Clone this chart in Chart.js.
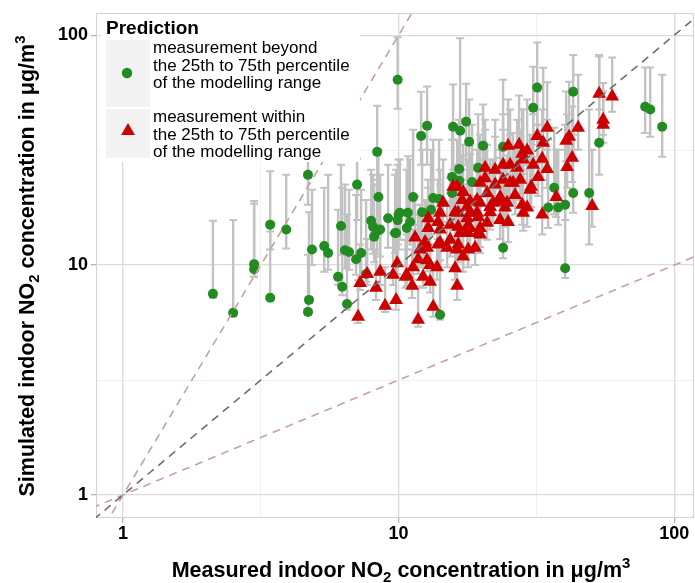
<!DOCTYPE html>
<html><head><meta charset="utf-8">
<script src="https://cdn.jsdelivr.net/npm/chart.js@4/dist/chart.umd.min.js"></script>
<style>html,body{margin:0;padding:0;background:#fff;}canvas{display:block;}</style>
</head><body>
<canvas id="c" width="695" height="583"></canvas>
<script>
// ---- data (µg/m³) ----
// measurement beyond the 25th to 75th percentile (green circles)
const greenX  = [2.12,2.51,2.99,2.99,3.42,3.42,3.91,4.69,4.73,4.69,4.85,5.37,5.55,6.03,6.24,6.50,7.07,6.18,6.39,6.61,7.01,7.31,7.62,8.36,8.45,7.95,8.08,8.36,8.57,8.15,9.16,9.79,10.0,9.92,12.07,12.69,15.77,16.72,17.58,18.03,20.26,23.94,31.83,30.79,43.0,53.43,78.46,81.85,90.45,36.7,43.0,49.15,34.9,37.95,40.21,40.21,11.29,13.35,14.02,12.17,13.12,10.1,10.8,11.0,9.92,10.7,9.71,16.59,15.64,16.59,18.48,19.43,15.64,23.94,14.14];
const greenY  = [7.50,6.20,10.1,9.6,15.0,7.21,14.3,24.7,7.06,6.26,11.7,12.1,11.3,8.89,8.05,6.78,22.4,14.8,11.6,11.4,10.6,11.3,9.15,31.1,19.8,15.6,14.7,14.1,14.3,13.3,16.0,13.8,16.6,64.1,36.5,40.4,40.0,38.4,42.1,34.4,33.1,32.7,59.3,48.4,56.8,34.1,48.9,47.5,40.0,21.7,20.6,20.6,17.8,17.8,18.3,9.7,19.8,19.6,19.4,17.0,17.4,16.9,16.9,15.4,15.7,14.5,13.8,26.2,24.2,23.3,23.0,26.5,20.6,11.9,6.08];
const greenLo = [7.21,6.00,8.9,8.9,11.7,7.0,11.8,18.3,6.85,6.1,10.0,9.35,9.55,8.21,7.4,6.39,15.7,11.1,9.7,9.55,9.07,8.89,8.46,19.2,13.6,11.7,11.2,11.2,10.9,10.3,11.9,10.3,11.7,47.9,27.3,27.3,26.0,24.7,27.3,23.5,22.4,21.3,40.8,33.4,31.8,24.7,37.6,36.2,29.6,16.6,16.9,12.3,14.5,15.0,15.7,8.8,15.0,15.0,15.0,13.2,13.6,12.9,12.9,12.3,12.3,11.7,11.3,19.2,18.3,17.4,17.4,20.0,15.7,10.7,5.78];
const greenHi = [15.6,15.7,19.0,18.5,25.6,14.0,24.7,31.8,17.0,11.1,21.3,21.7,24.7,17.4,21.7,16.6,29.0,27.3,22.4,21.3,20.2,21.3,19.2,49.3,31.8,26.0,24.7,23.5,24.7,22.4,27.3,26.0,28.8,98.0,56.8,59.8,61.0,97.0,61.6,52.5,50.0,64.0,93.0,73.0,82.0,82.0,72.5,72.5,67.4,39.6,36.9,47.5,35.1,31.8,31.8,40.8,38.8,35.1,35.1,31.8,31.8,28.8,29.8,28.8,27.3,26.0,24.7,42.9,40.8,39.6,40.8,45.3,35.1,19.8,12.9];

// measurement within the 25th to 75th percentile (red triangles)
const redX  = [7.25,7.69,8.57,8.28,9.55,8.93,7.13,9.79,9.88,11.29,12.69,13.79,10.6,12.27,13.01,16.04,11.2,16.31,13.35,11.77,12.80,14.14,13.90,16.45,17.73,19.27,21.49,23.35,24.35,24.97,28.08,28.32,30.02,12.80,11.48,12.48,14.14,15.38,16.72,17.73,19.43,20.95,15.0,16.31,17.88,18.95,17.15,11.77,14.51,17.01,19.27,16.45,19.76,20.6,22.4,23.94,25.39,28.32,30.79,32.10,24.97,27.37,29.27,31.83,16.31,17.15,19.76,20.95,23.94,25.39,27.61,30.27,34.61,40.89,26.91,33.47,34.61,41.58,40.55,44.83,53.43,59.57,55.25,55.25,28.08,33.19,42.64,37.32,33.19,50.39,19.76,22.03,17.73,12.69,
               21.49,23.35,24.76,16.04,18.18,19.43,17.88,15.77,26.03,18.18,18.18,19.76,13.90,16.45,13.01,10.7,29.27,22.4,14.14,15.38,11.97,23.35,26.47,20.6];
const redY  = [8.37,9.15,9.35,7.97,9.07,6.65,5.96,7.06,10.2,9.8,10.5,9.8,8.89,8.89,8.46,9.7,8.13,8.13,6.59,5.78,16.0,16.9,15.4,16.9,17.9,16.9,17.0,18.9,17.8,15.4,18.3,16.9,21.3,14.5,13.2,12.6,12.5,12.9,13.8,14.7,13.8,15.3,11.9,11.7,11.7,11.9,10.9,10.6,18.7,19.2,19.2,14.7,14.5,26.5,26.0,27.3,27.3,28.8,27.3,24.2,33.1,33.4,31.5,36.5,21.9,20.8,22.8,20.6,23.5,22.8,23.5,21.9,26.2,26.7,26.5,34.1,39.6,36.2,34.8,39.6,55.7,54.1,40.8,42.9,30.5,29.0,29.3,19.8,16.6,18.1,18.7,18.7,16.0,11.9,
               17.9,19.8,18.7,17.0,16.9,16.2,13.8,21.9,22.8,18.9,14.5,13.6,12.3,12.3,10.0,9.07,17.8,22.4,14.3,15.0,11.7,15.7,20.2,23.9];
const redLo = [7.8,8.2,8.2,7.06,8.2,6.26,5.6,6.4,9.15,8.63,9.4,8.63,7.97,7.97,7.6,8.63,7.2,7.06,5.96,5.4,13.6,14.3,13.0,14.3,15.0,14.1,14.3,15.6,14.7,12.6,15.0,14.1,17.4,12.0,11.1,10.5,10.5,10.9,11.3,12.0,11.3,12.9,9.8,9.6,9.8,10.0,9.35,9.15,15.4,15.7,15.7,12.0,12.0,21.9,21.5,22.4,22.4,23.5,22.4,20.0,27.3,27.3,26.0,29.6,17.4,16.6,18.3,16.6,19.2,18.3,19.2,17.9,21.7,21.7,21.7,27.9,31.8,29.6,28.3,31.8,47.5,46.5,34.1,36.9,25.0,23.5,23.0,16.2,13.6,14.7,15.4,15.4,13.6,9.8,
               15.0,16.6,15.7,14.3,14.1,13.6,11.7,18.3,18.7,15.7,12.0,11.3,10.3,10.3,8.9,8.1,14.7,18.3,12.0,12.6,9.8,13.0,16.6,19.8];
const redHi = [12.3,13.0,14.3,11.7,13.8,9.8,8.6,10.3,15.0,14.3,15.7,15.0,12.9,13.6,12.3,15.0,11.7,11.7,9.55,8.1,23.5,26.0,23.5,26.0,28.8,26.0,27.3,29.3,28.8,24.7,31.8,27.3,36.9,21.7,20.0,19.2,20.0,20.6,22.4,23.5,22.4,24.7,18.9,18.3,19.2,20.0,17.4,16.6,28.8,30.0,31.8,23.5,23.5,42.9,42.9,45.3,47.5,47.5,45.3,40.8,52.5,54.7,52.5,57.0,35.1,33.4,36.9,33.4,38.8,36.9,38.8,34.8,42.9,45.3,42.9,72.3,62.5,62.8,57.0,67.4,80.8,80.0,57.0,62.0,47.5,47.5,49.0,31.8,26.0,31.8,28.8,28.8,26.0,18.9,
               28.8,31.8,30.0,27.3,27.3,26.0,22.4,35.1,37.6,30.5,23.5,22.0,19.8,19.8,15.7,13.6,28.8,36.2,22.4,24.0,18.3,25.0,32.7,38.8];

// reference lines: 1:1, y = x^2, y = x^0.5 (end points)
const refX        = [0.5, 200];
const refIdentity = [0.5, 200];
const refSteep    = [0.25, 40000];
const refShallow  = [0.7071, 14.142];

// axis ticks
const gridValues  = [1, 3.1623, 10, 31.623, 100];
const majorTicks  = [1, 10, 100];
const legendTitle = 'Prediction';
const legendGreen = ['measurement beyond', 'the 25th to 75th percentile', 'of the modelling range'];
const legendRed   = ['measurement within', 'the 25th to 75th percentile', 'of the modelling range'];
const xTitle = [['Measured indoor NO', 0], ['2', 1], [' concentration in \u03bcg/m', 0], ['3', 2]];
const yTitle = [['Simulated indoor NO', 0], ['2', 1], [' concentration in \u03bcg/m', 0], ['3', 2]];

const FONT = "'Liberation Sans', Arial, Helvetica, sans-serif";
const GREEN = '#228B22', RED = '#CD0000';

function toPts(xs, ys) { return xs.map((x, i) => ({x: x, y: ys[i]})); }
const isMajor = v => majorTicks.some(m => Math.abs(m - v) < 1e-6);

const errorBars = {
  id: 'errorBars',
  beforeDatasetsDraw(chart) {
    const {ctx, chartArea: a, scales: {x, y}} = chart;
    ctx.save();
    ctx.beginPath(); ctx.rect(a.left, a.top, a.right - a.left, a.bottom - a.top); ctx.clip();
    // panel border
    ctx.strokeStyle = '#d4d4d4'; ctx.lineWidth = 1.2;
    ctx.strokeRect(a.left + 0.5, a.top + 0.5, a.right - a.left - 1, a.bottom - a.top - 1);
    ctx.strokeStyle = '#c2c2c2';
    const draw = (xs, lo, hi) => {
      for (let i = 0; i < xs.length; i++) {
        const px = x.getPixelForValue(xs[i]);
        const p1 = y.getPixelForValue(lo[i]), p2 = y.getPixelForValue(hi[i]);
        ctx.lineWidth = 2.4;
        ctx.beginPath(); ctx.moveTo(px, p1); ctx.lineTo(px, p2); ctx.stroke();
        ctx.lineWidth = 2;
        ctx.beginPath();
        ctx.moveTo(px - 4, p1); ctx.lineTo(px + 4, p1);
        ctx.moveTo(px - 4, p2); ctx.lineTo(px + 4, p2);
        ctx.stroke();
      }
    };
    draw(greenX, greenLo, greenHi);
    draw(redX, redLo, redHi);
    ctx.restore();
  }
};

function richWidth(ctx, parts, big, small) {
  let w = 0;
  for (const [t, k] of parts) { ctx.font = 'bold ' + (k ? small : big) + 'px ' + FONT; w += ctx.measureText(t).width; }
  return w;
}
function drawRich(ctx, parts, cx, base, big, small) {
  const w = richWidth(ctx, parts, big, small);
  let xpos = cx - w / 2;
  ctx.textAlign = 'left'; ctx.textBaseline = 'alphabetic'; ctx.fillStyle = '#000';
  for (const [t, k] of parts) {
    ctx.font = 'bold ' + (k ? small : big) + 'px ' + FONT;
    const dy = k === 1 ? 5 : (k === 2 ? -9 : 0);
    ctx.fillText(t, xpos, base + dy);
    xpos += ctx.measureText(t).width;
  }
}

const decorations = {
  id: 'decorations',
  afterDraw(chart) {
    const ctx = chart.ctx;
    ctx.save();
    // legend
    ctx.fillStyle = '#ffffff';
    ctx.fillRect(101, 14, 259, 148);
    ctx.fillStyle = '#f2f2f2';
    ctx.fillRect(106, 40, 44, 67);
    ctx.fillRect(106, 109, 44, 49);
    ctx.fillStyle = '#000';
    ctx.font = 'bold 19px ' + FONT;
    ctx.textAlign = 'left'; ctx.textBaseline = 'alphabetic';
    ctx.fillText(legendTitle, 106, 34);
    ctx.font = '17px ' + FONT;
    legendGreen.forEach((t, i) => ctx.fillText(t, 153, 53 + i * 17.7));
    legendRed.forEach((t, i) => ctx.fillText(t, 153, 122 + i * 17.7));
    ctx.fillStyle = GREEN;
    ctx.beginPath(); ctx.arc(127, 73, 5.2, 0, Math.PI * 2); ctx.fill();
    ctx.fillStyle = RED;
    const r = 8, cx = 128, cy = 131;
    ctx.beginPath();
    for (let k = 0; k < 3; k++) {
      const ang = k * 2 * Math.PI / 3;
      const px = cx + Math.sin(ang) * r, py = cy - Math.cos(ang) * r;
      if (k === 0) ctx.moveTo(px, py); else ctx.lineTo(px, py);
    }
    ctx.closePath(); ctx.fill();
    // axis titles
    drawRich(ctx, xTitle, 401, 577, 21.5, 15);
    ctx.translate(33.5, 266);
    ctx.rotate(-Math.PI / 2);
    drawRich(ctx, yTitle, 0, 0, 21.5, 15);
    ctx.restore();
  }
};

function makeScale(min, max, fitFn, pad) {
  return {
    type: 'logarithmic', min: min, max: max,
    afterBuildTicks: s => { s.ticks = gridValues.map(v => ({value: v, major: false})); },
    afterFit: fitFn,
    ticks: {
      autoSkip: false, maxRotation: 0, padding: pad, color: '#000',
      font: {family: FONT, size: 18, weight: 'bold'},
      callback: v => isMajor(v) ? String(Math.round(v)) : ''
    },
    grid: {
      color: c => isMajor(c.tick.value) ? '#dadada' : '#ececec',
      lineWidth: c => isMajor(c.tick.value) ? 1.3 : 0.8,
      tickColor: c => isMajor(c.tick.value) ? '#b5b5b5' : 'rgba(0,0,0,0)',
      tickLength: 5, drawTicks: true
    },
    border: {display: false}
  };
}

const lineDs = (ys, color) => ({
  type: 'scatter', data: toPts(refX, ys), showLine: true, pointRadius: 0,
  borderColor: color, borderWidth: 1.6, borderDash: [8, 6], fill: false
});

new Chart(document.getElementById('c'), {
  type: 'scatter',
  data: {
    datasets: [
      lineDs(refIdentity, '#6e6e6e'),
      lineDs(refSteep, '#c8a19a'),
      lineDs(refShallow, '#c8a19a'),
      {label: 'within', data: toPts(redX, redY), pointStyle: 'triangle', pointRadius: 8,
       backgroundColor: RED, borderWidth: 0, pointHoverRadius: 8},
      {label: 'beyond', data: toPts(greenX, greenY), pointStyle: 'circle', pointRadius: 5,
       backgroundColor: GREEN, borderWidth: 0, pointHoverRadius: 5}
    ]
  },
  options: {
    responsive: false, animation: false, devicePixelRatio: 1,
    layout: {autoPadding: false, padding: {left: 0, right: 1, top: 13, bottom: 0}},
    plugins: {legend: {display: false}, tooltip: {enabled: false}},
    scales: {
      x: makeScale(0.798, 118, s => { s.height = 65; s.paddingLeft = 0; s.paddingRight = 0; }, 0),
      y: makeScale(0.794, 125, s => { s.width = 96; s.paddingTop = 0; s.paddingBottom = 0; }, 3)
    }
  },
  plugins: [errorBars, decorations]
});
</script>
</body></html>
